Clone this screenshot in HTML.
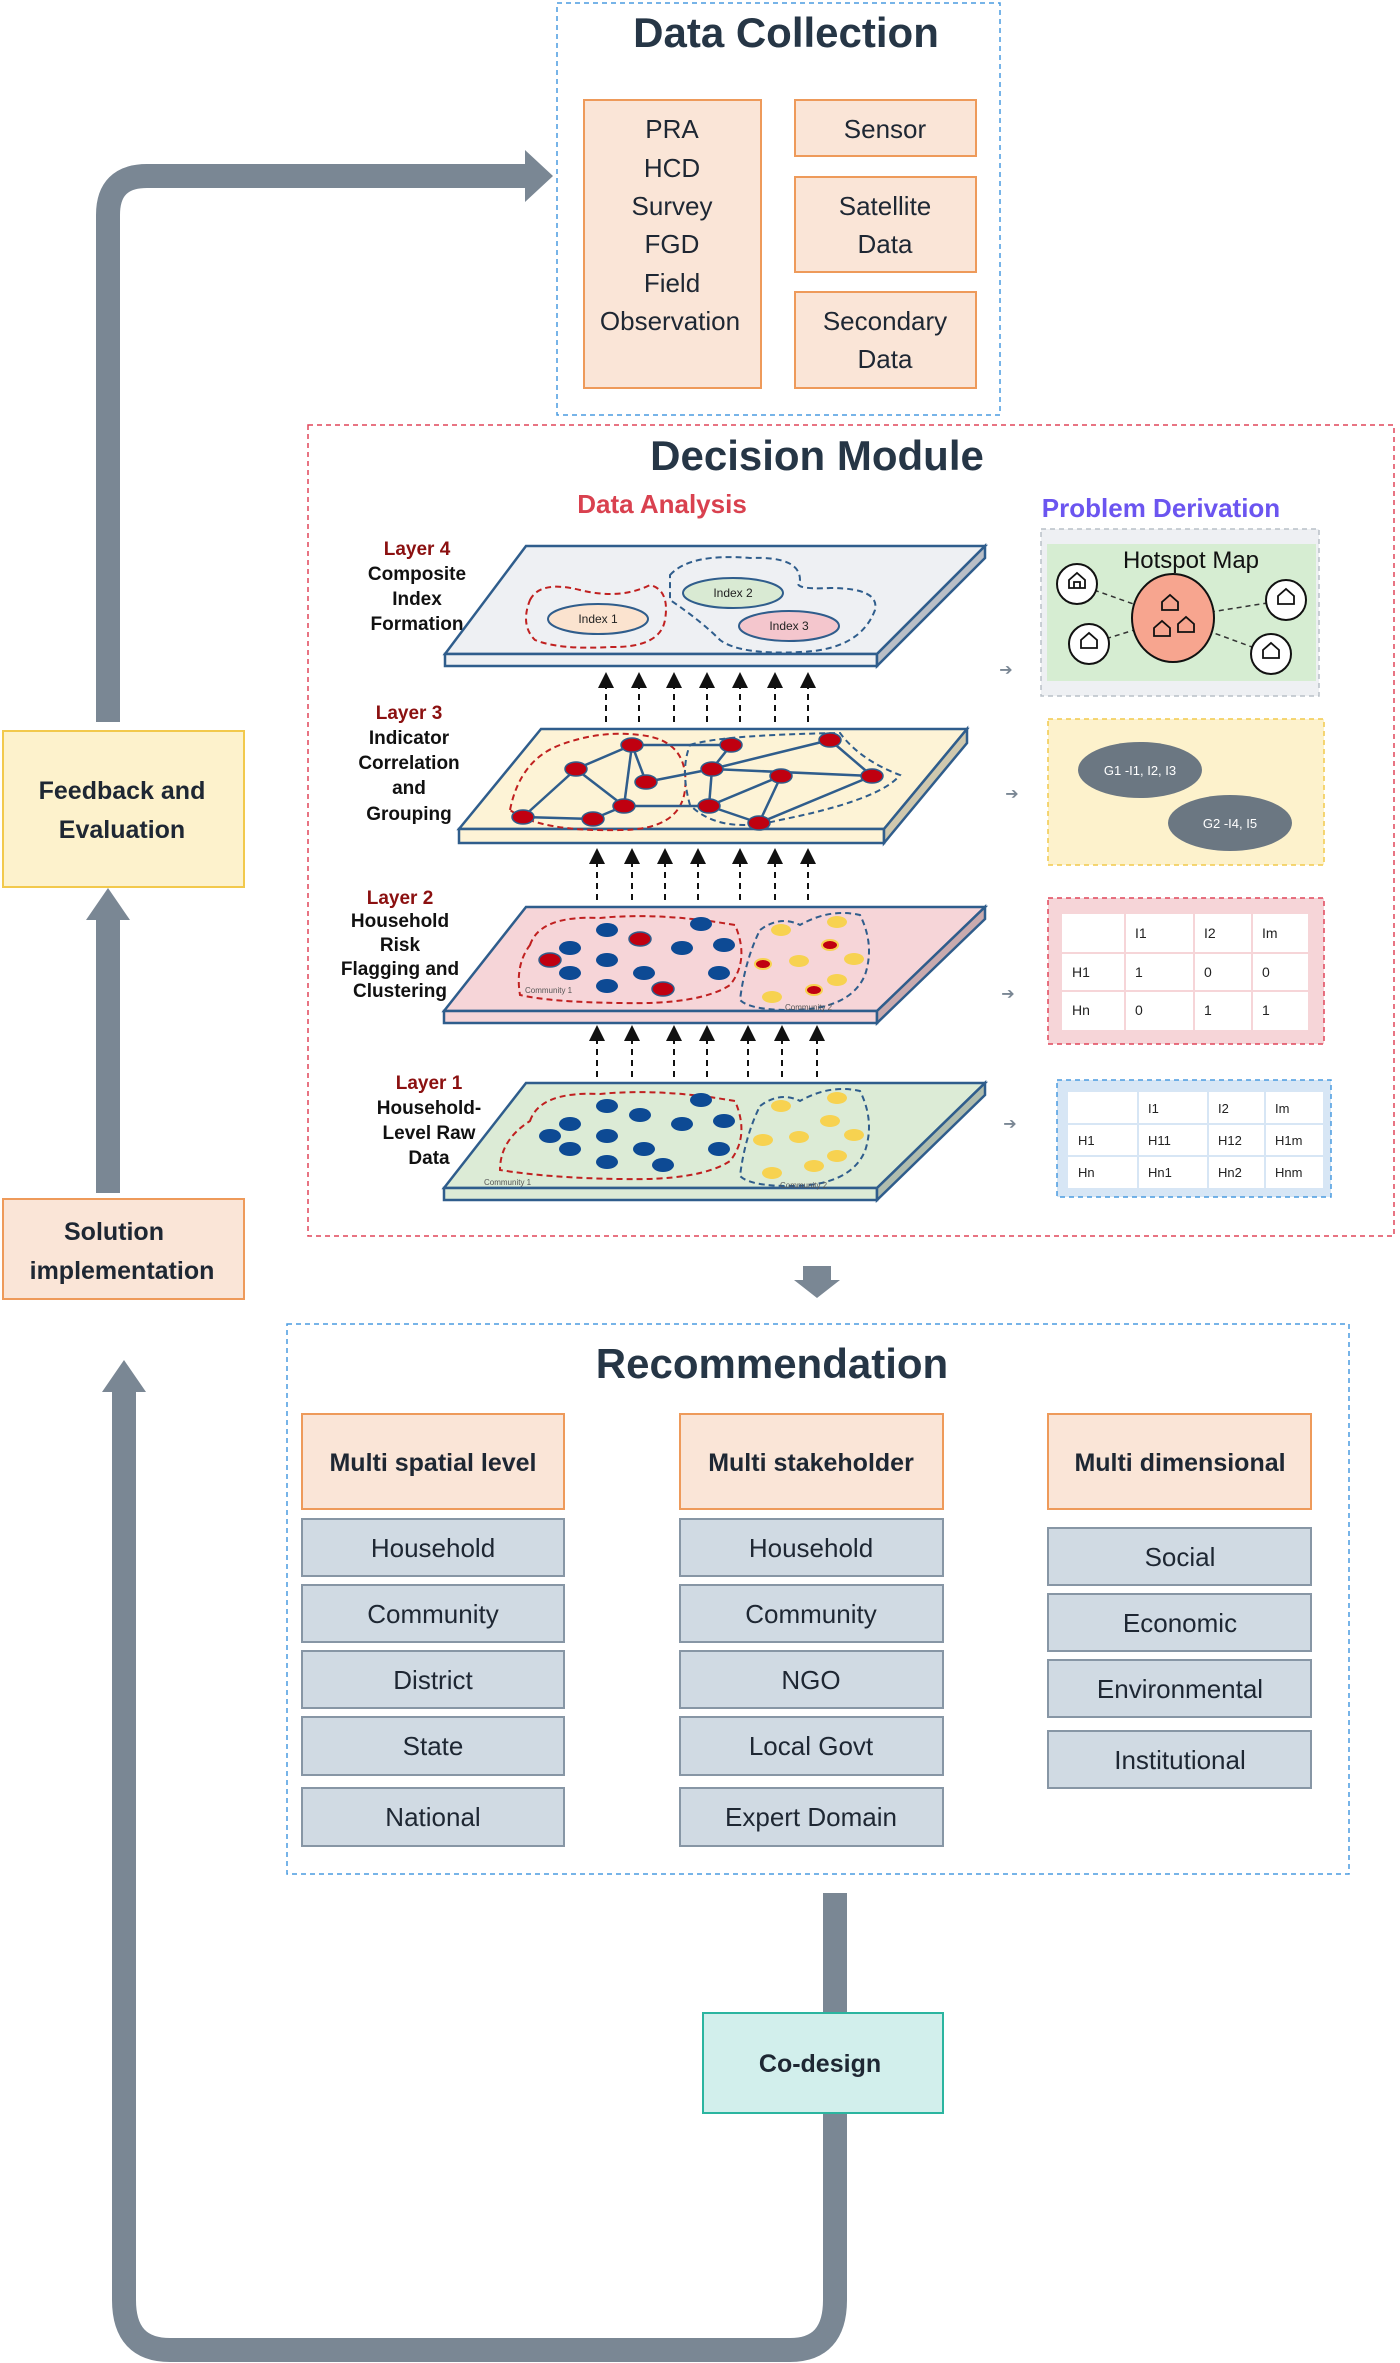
<!DOCTYPE html>
<html><head><meta charset="utf-8"><style>
html,body{margin:0;padding:0;background:#fff;}
svg{display:block;}
text{font-family:"Liberation Sans","DejaVu Sans",sans-serif;}
.t{font-family:"Liberation Sans",sans-serif;}
</style></head><body>
<svg width="1400" height="2363" viewBox="0 0 1400 2363" xmlns="http://www.w3.org/2000/svg">
<defs>
<marker id="ah" markerWidth="8" markerHeight="8" refX="4" refY="4" orient="auto"><path d="M0,0 L8,4 L0,8 z" fill="#111"/></marker>
</defs>

<!-- loops -->
<path d="M108,722 L108,215 Q108,176 147,176 L525,176" fill="none" stroke="#7a8794" stroke-width="24"/>
<polygon points="525,150 553,176 525,202" fill="#7a8794"/>
<path d="M108,1193 L108,920" fill="none" stroke="#7a8794" stroke-width="24"/>
<polygon points="86,920 108,888 130,920" fill="#7a8794"/>
<path d="M835,1893 L835,2300 Q835,2350 790,2350 L170,2350 Q124,2350 124,2300 L124,1390" fill="none" stroke="#7a8794" stroke-width="24"/>
<polygon points="102,1392 124,1360 146,1392" fill="#7a8794"/>
<polygon points="803,1266 831,1266 831,1280 840,1280 817,1298 794,1280 803,1280" fill="#7a8794"/>

<!-- Data Collection -->
<rect x="557" y="3" width="443" height="412" fill="none" stroke="#4a9be0" stroke-width="1.5" stroke-dasharray="5,4"/>
<text x="786" y="47" font-size="42" font-weight="bold" fill="#263646" text-anchor="middle">Data Collection</text>
<g fill="#fae5d7" stroke="#ee9a5a" stroke-width="2">
<rect x="584" y="100" width="177" height="288"/>
<rect x="795" y="100" width="181" height="56"/>
<rect x="795" y="177" width="181" height="95"/>
<rect x="795" y="292" width="181" height="96"/>
</g>
<g font-size="26" fill="#1e2733" text-anchor="middle">
<text x="672" y="138">PRA</text><text x="672" y="177">HCD</text><text x="672" y="215">Survey</text>
<text x="672" y="253">FGD</text><text x="672" y="292">Field</text><text x="670" y="330">Observation</text>
<text x="885" y="138">Sensor</text>
<text x="885" y="215">Satellite</text><text x="885" y="253">Data</text>
<text x="885" y="330">Secondary</text><text x="885" y="368">Data</text>
</g>

<!-- side boxes -->
<rect x="3" y="731" width="241" height="156" fill="#fdf2cc" stroke="#f2c94c" stroke-width="2"/>
<text x="122" y="799" font-size="25" font-weight="bold" fill="#1e2733" text-anchor="middle">Feedback and</text>
<text x="122" y="838" font-size="25" font-weight="bold" fill="#1e2733" text-anchor="middle">Evaluation</text>
<rect x="3" y="1199" width="241" height="100" fill="#fae5d7" stroke="#ee9a5a" stroke-width="2"/>
<text x="114" y="1240" font-size="25" font-weight="bold" fill="#1e2733" text-anchor="middle">Solution</text>
<text x="122" y="1279" font-size="25" font-weight="bold" fill="#1e2733" text-anchor="middle">implementation</text>

<!-- Decision Module -->
<rect x="308" y="425" width="1086" height="811" fill="none" stroke="#e0465a" stroke-width="1.5" stroke-dasharray="5,4"/>
<text x="817" y="470" font-size="42" font-weight="bold" fill="#263646" text-anchor="middle">Decision Module</text>
<text x="662" y="513" font-size="26" font-weight="bold" fill="#d9414f" text-anchor="middle">Data Analysis</text>
<text x="1161" y="517" font-size="26" font-weight="bold" fill="#6b55f0" text-anchor="middle">Problem Derivation</text>

<!-- layer labels -->
<g font-size="19" font-weight="bold" text-anchor="middle" fill="#111">
<text x="417" y="555" fill="#8b1010">Layer 4</text><text x="417" y="580">Composite</text><text x="417" y="605">Index</text><text x="417" y="630">Formation</text>
<text x="409" y="719" fill="#8b1010">Layer 3</text><text x="409" y="744">Indicator</text><text x="409" y="769">Correlation</text><text x="409" y="794">and</text><text x="409" y="820">Grouping</text>
<text x="400" y="904" fill="#8b1010">Layer 2</text><text x="400" y="927">Household</text><text x="400" y="951">Risk</text><text x="400" y="975">Flagging and</text><text x="400" y="997">Clustering</text>
<text x="429" y="1089" fill="#8b1010">Layer 1</text><text x="429" y="1114">Household-</text><text x="429" y="1139">Level Raw</text><text x="429" y="1164">Data</text>
</g>

<!-- plates -->
<g stroke="#2f5d8c" stroke-width="2.5">
<polygon points="526,546 985,546 877,654 445,654" fill="#eef0f3"/>
<polygon points="445,654 877,654 877,666 445,666" fill="#eef0f3"/>
<polygon points="877,654 985,546 985,558 877,666" fill="#b9bec6"/>

<polygon points="541,729 967,729 884,829 459,829" fill="#fdf3d6"/>
<polygon points="459,829 884,829 884,843 459,843" fill="#fdf3d6"/>
<polygon points="884,829 967,729 967,743 884,843" fill="#cfc8ae"/>

<polygon points="526,907 985,907 877,1011 444,1011" fill="#f6d5d8"/>
<polygon points="444,1011 877,1011 877,1023 444,1023" fill="#f6d5d8"/>
<polygon points="877,1011 985,907 985,919 877,1023" fill="#c9aaae"/>

<polygon points="526,1083 985,1083 877,1188 444,1188" fill="#dcebd6"/>
<polygon points="444,1188 877,1188 877,1200 444,1200" fill="#dcebd6"/>
<polygon points="877,1188 985,1083 985,1095 877,1200" fill="#b0bdae"/>
</g>

<!-- layer 4 content -->
<path d="M530,600 Q540,580 580,590 Q620,600 650,585 Q670,590 665,620 Q660,648 610,647 Q560,650 535,640 Q520,625 530,600 z" fill="none" stroke="#c02020" stroke-width="2" stroke-dasharray="6,4"/>
<path d="M670,575 Q690,553 750,558 Q800,556 800,580 Q790,590 830,588 Q880,588 875,610 Q860,650 800,652 Q740,655 720,640 Q700,620 670,600 z" fill="none" stroke="#2f5d8c" stroke-width="2" stroke-dasharray="6,4"/>
<ellipse cx="598" cy="619" rx="50" ry="15" fill="#fbe3cf" stroke="#2f5d8c" stroke-width="2"/>
<ellipse cx="733" cy="593" rx="50" ry="15" fill="#d9ead3" stroke="#2f5d8c" stroke-width="2"/>
<ellipse cx="789" cy="626" rx="50" ry="15" fill="#f4c6cd" stroke="#2f5d8c" stroke-width="2"/>
<g font-size="12" text-anchor="middle" fill="#222"><text x="598" y="623">Index 1</text><text x="733" y="597">Index 2</text><text x="789" y="630">Index 3</text></g>

<!-- layer 3 network -->
<path d="M510,810 Q520,760 560,745 Q600,730 640,735 Q690,740 685,790 Q680,830 620,830 Q540,832 510,810 z" fill="none" stroke="#c02020" stroke-width="2" stroke-dasharray="6,4"/>
<path d="M690,745 Q720,735 840,733 Q860,760 900,775 Q880,800 780,820 Q720,835 690,805 Q680,770 690,745 z" fill="none" stroke="#2f5d8c" stroke-width="2" stroke-dasharray="6,4"/>
<g stroke="#2f5d8c" stroke-width="2.5">
<line x1="523" y1="817" x2="576" y2="769"/><line x1="523" y1="817" x2="593" y2="819"/><line x1="593" y1="819" x2="624" y2="806"/>
<line x1="576" y1="769" x2="632" y2="745"/><line x1="576" y1="769" x2="624" y2="806"/><line x1="632" y1="745" x2="624" y2="806"/>
<line x1="632" y1="745" x2="731" y2="745"/><line x1="632" y1="745" x2="646" y2="782"/><line x1="646" y1="782" x2="712" y2="769"/>
<line x1="624" y1="806" x2="709" y2="806"/><line x1="712" y1="769" x2="731" y2="745"/><line x1="712" y1="769" x2="830" y2="740"/>
<line x1="712" y1="769" x2="709" y2="806"/><line x1="709" y1="806" x2="759" y2="823"/><line x1="709" y1="806" x2="781" y2="776"/>
<line x1="759" y1="823" x2="781" y2="776"/><line x1="830" y1="740" x2="872" y2="776"/><line x1="712" y1="769" x2="872" y2="776"/><line x1="759" y1="823" x2="872" y2="776"/>
</g>
<g fill="#c00010" stroke="#2f5d8c" stroke-width="1.5">
<ellipse cx="523" cy="817" rx="11" ry="7"/><ellipse cx="593" cy="819" rx="11" ry="7"/><ellipse cx="576" cy="769" rx="11" ry="7"/>
<ellipse cx="632" cy="745" rx="11" ry="7"/><ellipse cx="646" cy="782" rx="11" ry="7"/><ellipse cx="624" cy="806" rx="11" ry="7"/>
<ellipse cx="709" cy="806" rx="11" ry="7"/><ellipse cx="712" cy="769" rx="11" ry="7"/><ellipse cx="731" cy="745" rx="11" ry="7"/>
<ellipse cx="781" cy="776" rx="11" ry="7"/><ellipse cx="759" cy="823" rx="11" ry="7"/><ellipse cx="830" cy="740" rx="11" ry="7"/><ellipse cx="872" cy="776" rx="11" ry="7"/>
</g>

<!-- layer 2 dots -->
<path d="M530,945 Q540,915 600,918 Q660,912 735,925 Q750,960 730,985 Q700,1005 620,1003 Q550,1002 520,995 Q515,965 530,945 z" fill="none" stroke="#c02020" stroke-width="2" stroke-dasharray="6,4"/>
<path d="M760,930 Q780,915 800,925 Q830,908 860,915 Q875,945 865,975 Q850,1010 790,1010 Q750,1010 740,1000 Q745,960 760,930 z" fill="none" stroke="#2f5d8c" stroke-width="2" stroke-dasharray="6,4"/>
<g fill="#0d4a94">
<ellipse cx="607" cy="930" rx="11" ry="7"/><ellipse cx="570" cy="948" rx="11" ry="7"/><ellipse cx="607" cy="960" rx="11" ry="7"/><ellipse cx="570" cy="973" rx="11" ry="7"/>
<ellipse cx="644" cy="973" rx="11" ry="7"/><ellipse cx="682" cy="948" rx="11" ry="7"/><ellipse cx="724" cy="945" rx="11" ry="7"/><ellipse cx="701" cy="924" rx="11" ry="7"/>
<ellipse cx="607" cy="986" rx="11" ry="7"/><ellipse cx="719" cy="973" rx="11" ry="7"/>
</g>
<g fill="#c00010" stroke="#2f5d8c" stroke-width="1.5"><ellipse cx="550" cy="960" rx="11" ry="7"/><ellipse cx="640" cy="939" rx="11" ry="7"/><ellipse cx="663" cy="989" rx="11" ry="7"/></g>
<g fill="#f7d250"><ellipse cx="781" cy="930" rx="10" ry="6"/><ellipse cx="837" cy="922" rx="10" ry="6"/><ellipse cx="854" cy="959" rx="10" ry="6"/><ellipse cx="799" cy="961" rx="10" ry="6"/><ellipse cx="772" cy="997" rx="10" ry="6"/><ellipse cx="837" cy="980" rx="10" ry="6"/></g>
<g fill="#c00010" stroke="#f7d250" stroke-width="2"><ellipse cx="830" cy="945" rx="8" ry="5"/><ellipse cx="763" cy="964" rx="8" ry="5"/><ellipse cx="814" cy="990" rx="8" ry="5"/></g>
<text x="525" y="993" font-size="8" fill="#555">Community 1</text><text x="785" y="1010" font-size="8" fill="#555">Community 2</text>

<!-- layer 1 dots -->
<path d="M530,1121 Q540,1091 600,1094 Q660,1088 735,1101 Q750,1136 730,1161 Q700,1181 620,1179 Q550,1178 500,1170 Q500,1140 530,1121 z" fill="none" stroke="#c02020" stroke-width="2" stroke-dasharray="6,4"/>
<path d="M760,1106 Q780,1091 800,1101 Q830,1084 860,1091 Q875,1121 865,1151 Q850,1186 790,1186 Q750,1186 740,1176 Q745,1136 760,1106 z" fill="none" stroke="#2f5d8c" stroke-width="2" stroke-dasharray="6,4"/>
<g fill="#0d4a94">
<ellipse cx="607" cy="1106" rx="11" ry="7"/><ellipse cx="570" cy="1124" rx="11" ry="7"/><ellipse cx="607" cy="1136" rx="11" ry="7"/><ellipse cx="570" cy="1149" rx="11" ry="7"/>
<ellipse cx="644" cy="1149" rx="11" ry="7"/><ellipse cx="682" cy="1124" rx="11" ry="7"/><ellipse cx="724" cy="1121" rx="11" ry="7"/><ellipse cx="701" cy="1100" rx="11" ry="7"/>
<ellipse cx="607" cy="1162" rx="11" ry="7"/><ellipse cx="719" cy="1149" rx="11" ry="7"/><ellipse cx="550" cy="1136" rx="11" ry="7"/><ellipse cx="640" cy="1115" rx="11" ry="7"/><ellipse cx="663" cy="1165" rx="11" ry="7"/>
</g>
<g fill="#f7d250"><ellipse cx="781" cy="1106" rx="10" ry="6"/><ellipse cx="837" cy="1098" rx="10" ry="6"/><ellipse cx="854" cy="1135" rx="10" ry="6"/><ellipse cx="799" cy="1137" rx="10" ry="6"/><ellipse cx="772" cy="1173" rx="10" ry="6"/><ellipse cx="837" cy="1156" rx="10" ry="6"/><ellipse cx="830" cy="1121" rx="10" ry="6"/><ellipse cx="763" cy="1140" rx="10" ry="6"/><ellipse cx="814" cy="1166" rx="10" ry="6"/></g>
<text x="484" y="1185" font-size="8" fill="#555">Community 1</text><text x="780" y="1188" font-size="8" fill="#555">Community 2</text>

<!-- dashed arrows -->
<g stroke="#111" stroke-width="2" stroke-dasharray="6,5" marker-end="url(#ah)">
<line x1="606" y1="722" x2="606" y2="680"/><line x1="639" y1="722" x2="639" y2="680"/><line x1="674" y1="722" x2="674" y2="680"/><line x1="707" y1="722" x2="707" y2="680"/><line x1="740" y1="722" x2="740" y2="680"/><line x1="775" y1="722" x2="775" y2="680"/><line x1="808" y1="722" x2="808" y2="680"/>
<line x1="597" y1="900" x2="597" y2="856"/><line x1="632" y1="900" x2="632" y2="856"/><line x1="665" y1="900" x2="665" y2="856"/><line x1="698" y1="900" x2="698" y2="856"/><line x1="740" y1="900" x2="740" y2="856"/><line x1="775" y1="900" x2="775" y2="856"/><line x1="808" y1="900" x2="808" y2="856"/>
<line x1="597" y1="1077" x2="597" y2="1033"/><line x1="632" y1="1077" x2="632" y2="1033"/><line x1="674" y1="1077" x2="674" y2="1033"/><line x1="707" y1="1077" x2="707" y2="1033"/><line x1="748" y1="1077" x2="748" y2="1033"/><line x1="782" y1="1077" x2="782" y2="1033"/><line x1="817" y1="1077" x2="817" y2="1033"/>
</g>
<g font-size="16" fill="#7a8794" text-anchor="middle"><text x="1006" y="675">➔</text><text x="1012" y="799">➔</text><text x="1008" y="999">➔</text><text x="1010" y="1129">➔</text></g>

<!-- Hotspot panel -->
<rect x="1041" y="529" width="278" height="167" fill="#eef0f3" stroke="#b9c0c8" stroke-width="1.5" stroke-dasharray="5,4"/>
<rect x="1047" y="544" width="269" height="137" fill="#d6edd2"/>
<text x="1191" y="568" font-size="24" fill="#111" text-anchor="middle">Hotspot Map</text>
<g stroke="#333" stroke-width="1.5" stroke-dasharray="5,4"><line x1="1077" y1="584" x2="1173" y2="618"/><line x1="1089" y1="644" x2="1173" y2="618"/><line x1="1286" y1="600" x2="1173" y2="618"/><line x1="1271" y1="654" x2="1173" y2="618"/></g>
<ellipse cx="1173" cy="618" rx="41" ry="44" fill="#f7a58f" stroke="#111" stroke-width="2"/>
<g fill="#fff" stroke="#111" stroke-width="2"><circle cx="1077" cy="584" r="20"/><circle cx="1089" cy="644" r="20"/><circle cx="1286" cy="600" r="20"/><circle cx="1271" cy="654" r="20"/></g>
<g fill="none" stroke="#111" stroke-width="1.8">
<path d="M1069,588 l0,-8 l8,-7 l8,7 l0,8 z M1074,588 l0,-6 l6,0 l0,6"/>
<path d="M1081,648 l0,-8 l8,-7 l8,7 l0,8 z"/>
<path d="M1278,604 l0,-8 l8,-7 l8,7 l0,8 z"/>
<path d="M1263,658 l0,-8 l8,-7 l8,7 l0,8 z"/>
<path d="M1162,610 l0,-8 l8,-7 l8,7 l0,8 z"/>
<path d="M1154,636 l0,-8 l8,-7 l8,7 l0,8 z"/>
<path d="M1178,632 l0,-8 l8,-7 l8,7 l0,8 z"/>
</g>

<!-- Groups panel -->
<rect x="1048" y="719" width="276" height="146" fill="#fdf2cc" stroke="#f2c94c" stroke-width="1.5" stroke-dasharray="5,4"/>
<ellipse cx="1140" cy="770" rx="62" ry="28" fill="#6b7782"/>
<ellipse cx="1230" cy="823" rx="62" ry="28" fill="#6b7782"/>
<text x="1140" y="775" font-size="13" fill="#fff" text-anchor="middle">G1 -I1, I2, I3</text>
<text x="1230" y="828" font-size="13" fill="#fff" text-anchor="middle">G2 -I4, I5</text>

<!-- Pink panel table -->
<rect x="1048" y="898" width="276" height="146" fill="#f6d5d8" stroke="#e0465a" stroke-width="1.5" stroke-dasharray="5,4"/>
<rect x="1062" y="914" width="246" height="116" fill="#fff"/>
<g stroke="#f6d5d8" stroke-width="2"><line x1="1125" y1="914" x2="1125" y2="1030"/><line x1="1194" y1="914" x2="1194" y2="1030"/><line x1="1252" y1="914" x2="1252" y2="1030"/><line x1="1062" y1="953" x2="1308" y2="953"/><line x1="1062" y1="991" x2="1308" y2="991"/></g>
<g font-size="14" fill="#222"><text x="1135" y="938">I1</text><text x="1204" y="938">I2</text><text x="1262" y="938">Im</text>
<text x="1072" y="977">H1</text><text x="1135" y="977">1</text><text x="1204" y="977">0</text><text x="1262" y="977">0</text>
<text x="1072" y="1015">Hn</text><text x="1135" y="1015">0</text><text x="1204" y="1015">1</text><text x="1262" y="1015">1</text></g>

<!-- Blue panel table -->
<rect x="1057" y="1080" width="274" height="117" fill="#d7e6f5" stroke="#4a9be0" stroke-width="1.5" stroke-dasharray="5,4"/>
<rect x="1068" y="1092" width="255" height="96" fill="#fff"/>
<g stroke="#d7e6f5" stroke-width="2"><line x1="1138" y1="1092" x2="1138" y2="1188"/><line x1="1208" y1="1092" x2="1208" y2="1188"/><line x1="1265" y1="1092" x2="1265" y2="1188"/><line x1="1068" y1="1124" x2="1323" y2="1124"/><line x1="1068" y1="1156" x2="1323" y2="1156"/></g>
<g font-size="13" fill="#222"><text x="1148" y="1113">I1</text><text x="1218" y="1113">I2</text><text x="1275" y="1113">Im</text>
<text x="1078" y="1145">H1</text><text x="1148" y="1145">H11</text><text x="1218" y="1145">H12</text><text x="1275" y="1145">H1m</text>
<text x="1078" y="1177">Hn</text><text x="1148" y="1177">Hn1</text><text x="1218" y="1177">Hn2</text><text x="1275" y="1177">Hnm</text></g>

<!-- Recommendation -->
<rect x="287" y="1324" width="1062" height="550" fill="none" stroke="#4a9be0" stroke-width="1.5" stroke-dasharray="5,4"/>
<text x="772" y="1378" font-size="42" font-weight="bold" fill="#263646" text-anchor="middle">Recommendation</text>
<g fill="#fae5d7" stroke="#ee9a5a" stroke-width="2">
<rect x="302" y="1414" width="262" height="95"/><rect x="680" y="1414" width="263" height="95"/><rect x="1048" y="1414" width="263" height="95"/>
</g>
<g font-size="25" font-weight="bold" fill="#1e2733" text-anchor="middle">
<text x="433" y="1471">Multi spatial level</text><text x="811" y="1471">Multi stakeholder</text><text x="1180" y="1471">Multi dimensional</text>
</g>
<g fill="#d0dae3" stroke="#8796a5" stroke-width="2">
<rect x="302" y="1519" width="262" height="57"/><rect x="302" y="1585" width="262" height="57"/><rect x="302" y="1651" width="262" height="57"/><rect x="302" y="1717" width="262" height="58"/><rect x="302" y="1788" width="262" height="58"/>
<rect x="680" y="1519" width="263" height="57"/><rect x="680" y="1585" width="263" height="57"/><rect x="680" y="1651" width="263" height="57"/><rect x="680" y="1717" width="263" height="58"/><rect x="680" y="1788" width="263" height="58"/>
<rect x="1048" y="1528" width="263" height="57"/><rect x="1048" y="1594" width="263" height="57"/><rect x="1048" y="1660" width="263" height="57"/><rect x="1048" y="1731" width="263" height="57"/>
</g>
<g font-size="26" fill="#1e2733" text-anchor="middle">
<text x="433" y="1557">Household</text><text x="433" y="1623">Community</text><text x="433" y="1689">District</text><text x="433" y="1755">State</text><text x="433" y="1826">National</text>
<text x="811" y="1557">Household</text><text x="811" y="1623">Community</text><text x="811" y="1689">NGO</text><text x="811" y="1755">Local Govt</text><text x="811" y="1826">Expert Domain</text>
<text x="1180" y="1566">Social</text><text x="1180" y="1632">Economic</text><text x="1180" y="1698">Environmental</text><text x="1180" y="1769">Institutional</text>
</g>

<!-- Co-design -->
<rect x="703" y="2013" width="240" height="100" fill="#d2efec" stroke="#2bb5a0" stroke-width="2"/>
<text x="820" y="2072" font-size="25" font-weight="bold" fill="#1e2733" text-anchor="middle">Co-design</text>
</svg>
</body></html>
